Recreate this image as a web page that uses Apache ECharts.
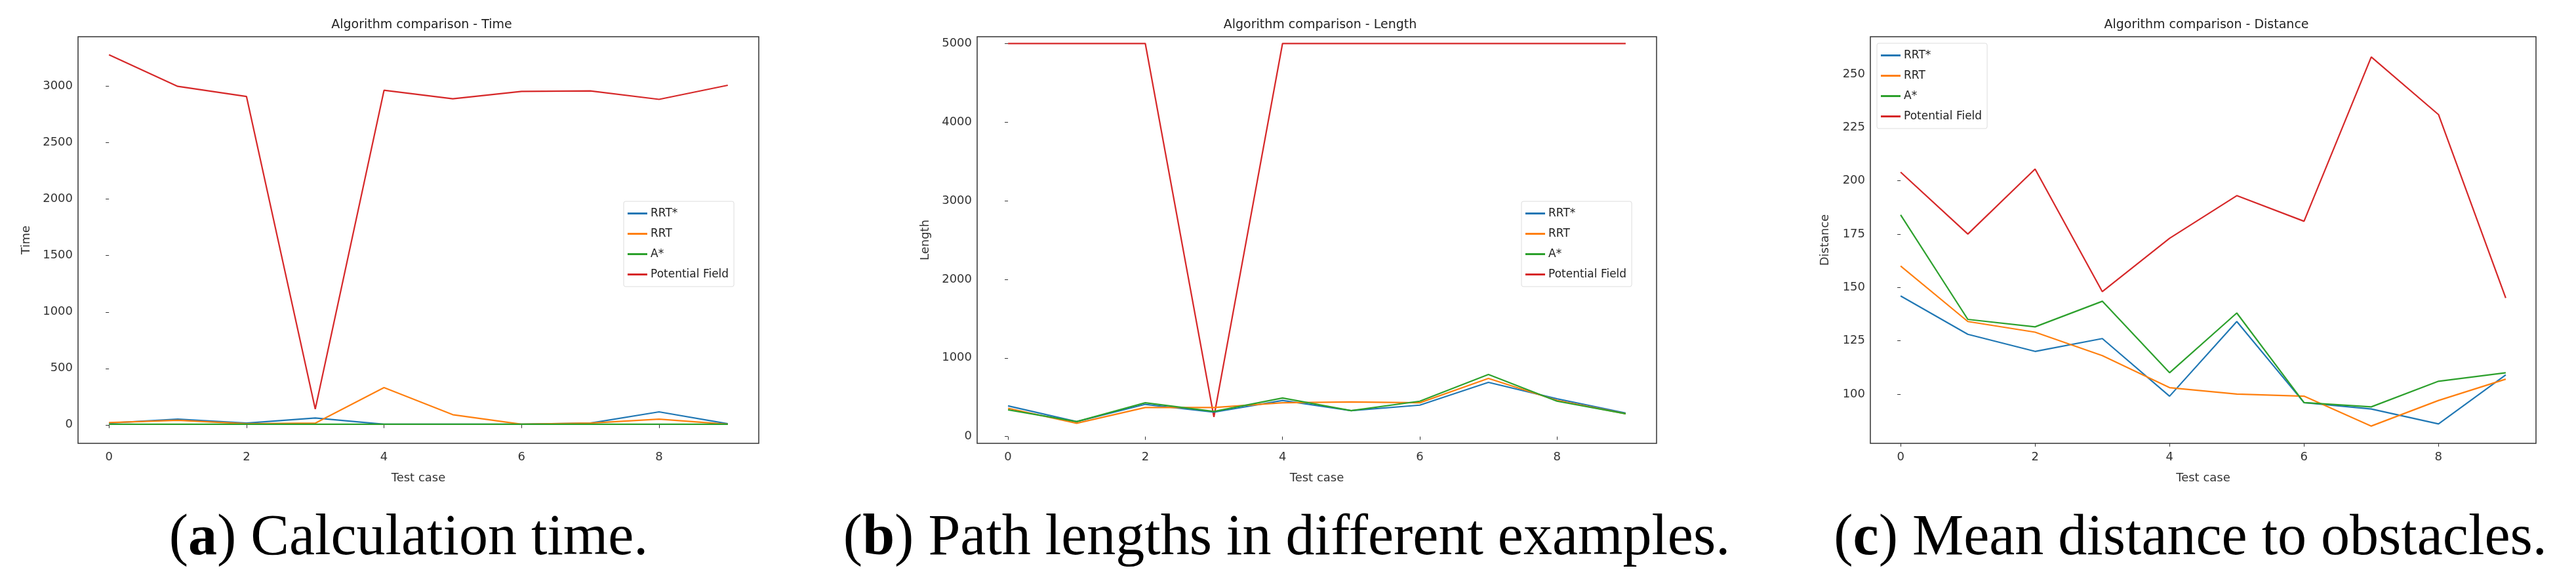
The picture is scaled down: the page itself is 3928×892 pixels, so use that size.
<!DOCTYPE html>
<html><head><meta charset="utf-8">
<script src="https://cdn.jsdelivr.net/npm/echarts@6/dist/echarts.min.js"></script>
<style>html,body{margin:0;background:#fff}#c{width:3928px;height:892px}</style>
</head><body><div id="c"></div>
<script>
const testCases = [0,1,2,3,4,5,6,7,8,9];
const seriesNames = ['RRT*','RRT','A*','Potential Field'];
const colors = ['#1f77b4','#ff7f0e','#2ca02c','#d62728'];
// Time
const timeRRTstar = [15,50,15,60,5,5,5,15,115,10];
const timeRRT = [20,40,10,15,330,90,5,15,50,5];
const timeAstar = [5,5,5,5,5,5,5,5,5,5];
const timePF = [3280,3000,2910,140,2965,2890,2955,2960,2885,3010];
// Length
const lenRRTstar = [390,190,410,310,460,330,400,690,480,300];
const lenRRT = [360,170,370,370,430,440,430,740,460,290];
const lenAstar = [340,190,430,320,490,330,450,790,450,290];
const lenPF = [5000,5000,5000,250,5000,5000,5000,5000,5000,5000];
// Distance
const distRRTstar = [146,128,120,126,99,134,96,93,86,109];
const distRRT = [160,134,129,118,103,100,99,85,97,107];
const distAstar = [184,135,131.5,143.5,110,138,96,94,106,110];
const distPF = [204,175,205.5,148,173,193,181,258,231,145];
const xTicks = [0,2,4,6,8];
const yTicks1 = [0,500,1000,1500,2000,2500,3000];
const yTicks2 = [0,1000,2000,3000,4000,5000];
const yTicks3 = [100,125,150,175,200,225,250];
const titles = ['Algorithm comparison - Time','Algorithm comparison - Length','Algorithm comparison - Distance'];
const yNames = ['Time','Length','Distance'];

const panels = [
  {data:[timeRRTstar,timeRRT,timeAstar,timePF], ymin:-164, ymax:3440, yt:yTicks1, left:119, width:1038},
  {data:[lenRRTstar,lenRRT,lenAstar,lenPF], ymin:-86, ymax:5086, yt:yTicks2, left:1490, width:1036},
  {data:[distRRTstar,distRRT,distAstar,distPF], ymin:76.9, ymax:267.5, yt:yTicks3, left:2852, width:1015}
];
const font = 'DejaVu Sans';
const grid=[],xAxis=[],yAxis=[],series=[],title=[];
panels.forEach((p,i)=>{
  grid.push({left:p.left,width:p.width,top:56,height:620,show:true,borderColor:'#333',borderWidth:1.5});
  title.push({text:titles[i],left:p.left+p.width/2,top:24,textAlign:'center',textStyle:{fontFamily:font,fontSize:19,fontWeight:'normal',color:'#222'}});
  xAxis.push({type:'value',gridIndex:i,min:-0.45,max:9.45,name:'Test case',nameLocation:'middle',nameGap:44,
    nameTextStyle:{fontFamily:font,fontSize:18,color:'#333'},
    axisLine:{show:false},splitLine:{show:false},
    axisTick:{show:true,customValues:xTicks,lineStyle:{color:'#333'}},
    axisLabel:{customValues:xTicks,formatter:v=>String(v),fontFamily:font,fontSize:18,color:'#333',margin:12}});
  yAxis.push({type:'value',gridIndex:i,min:p.ymin,max:p.ymax,name:yNames[i],nameLocation:'middle',nameGap:i==2?60:70,
    nameTextStyle:{fontFamily:font,fontSize:18,color:'#333'},
    axisLine:{show:false},splitLine:{show:false},
    axisTick:{show:true,customValues:p.yt,lineStyle:{color:'#333'}},
    axisLabel:{customValues:p.yt,formatter:v=>String(v),fontFamily:font,fontSize:18,color:'#333'}});
  p.data.forEach((d,k)=>{
    series.push({type:'line',name:seriesNames[k],xAxisIndex:i,yAxisIndex:i,showSymbol:false,
      data:testCases.map((x,j)=>[x,d[j]]),lineStyle:{width:2.2,color:colors[k]},itemStyle:{color:colors[k]},z:k==3?1:2});
  });
});
const legendBase = {orient:'vertical',data:seriesNames,icon:'rect',itemWidth:30,itemHeight:3,itemGap:14,
  borderColor:'#ddd',borderWidth:1,borderRadius:3,padding:[10,8,10,6],backgroundColor:'#fff',
  textStyle:{fontFamily:font,fontSize:17,color:'#222'}};
const legend = [
  Object.assign({},legendBase,{left:951,top:307}),
  Object.assign({},legendBase,{left:2320,top:307}),
  Object.assign({},legendBase,{left:2862,top:66})
];
const captions = [
  {x:623,a:'a',t:' Calculation time.'},
  {x:1962,a:'b',t:' Path lengths in different examples.'},
  {x:3340,a:'c',t:' Mean distance to obstacles.'}
];
const chart = echarts.init(document.getElementById('c'));
chart.setOption({animation:false,backgroundColor:'#fff',title,grid,xAxis,yAxis,series,legend,
  graphic:captions.map(c=>({type:'text',x:c.x,y:778,style:{text:'({b|'+c.a+'})'+c.t,fontFamily:'Liberation Serif',fontSize:88,fill:'#000',align:'center',
  rich:{b:{fontFamily:'Liberation Serif',fontSize:88,fontWeight:'bold'}}}}))});
</script></body></html>
